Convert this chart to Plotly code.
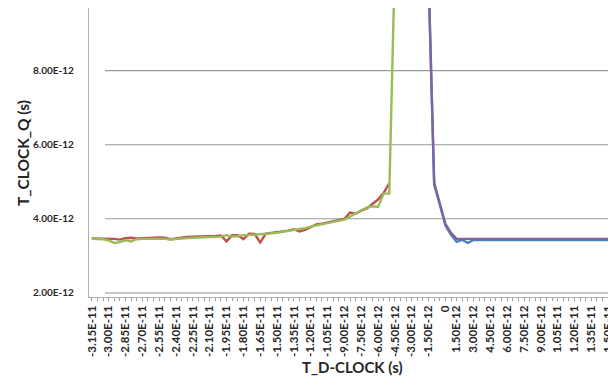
import plotly.graph_objects as go

# ---- data (times in picoseconds; labels show seconds) ----
T_D_PS = [-31.5, -31.0, -30.5, -30.0, -29.5, -29.0, -28.5, -28.0, -27.5, -27.0,
          -26.5, -26.0, -25.5, -25.0, -24.5, -24.0, -23.5, -23.0, -22.5, -22.0,
          -21.5, -21.0, -20.5, -20.0, -19.5, -19.0, -18.5, -18.0, -17.5, -17.0,
          -16.5, -16.0, -15.5, -15.0, -14.5, -14.0, -13.5, -13.0, -12.5, -12.0,
          -11.5, -11.0, -10.5, -10.0, -9.5, -9.0, -8.5, -8.0, -7.5, -7.0,
          -6.5, -6.0, -5.5, -5.0, -4.5, -4.0, -3.5, -3.0, -2.5, -2.0,
          -1.5, -1.0, -0.5, 0.0, 1.0, 1.5, 2.0, 2.5, 3.0, 3.5,
          4.0, 4.5, 5.0, 5.5, 6.0, 6.5, 7.0, 7.5, 8.0, 8.5,
          9.0, 9.5, 10.0, 10.5, 11.0, 11.5, 12.0, 12.5, 13.0, 13.5,
          14.0, 14.5, 15.0]

X_TICK_AT_PS = [-31.5, -30.0, -28.5, -27.0, -25.5, -24.0, -22.5, -21.0, -19.5, -18.0,
                -16.5, -15.0, -13.5, -12.0, -10.5, -9.0, -7.5, -6.0, -4.5, -3.0,
                -1.5, 0.0, 1.5, 3.0, 4.5, 6.0, 7.5, 9.0, 10.5, 12.0, 13.5, 15.0]
X_TICK_LABELS = ["-3.15E-11", "-3.00E-11", "-2.85E-11", "-2.70E-11", "-2.55E-11",
                 "-2.40E-11", "-2.25E-11", "-2.10E-11", "-1.95E-11", "-1.80E-11",
                 "-1.65E-11", "-1.50E-11", "-1.35E-11", "-1.20E-11", "-1.05E-11",
                 "-9.00E-12", "-7.50E-12", "-6.00E-12", "-4.50E-12", "-3.00E-12",
                 "-1.50E-12", "0", "1.50E-12", "3.00E-12", "4.50E-12", "6.00E-12",
                 "7.50E-12", "9.00E-12", "1.05E-11", "1.20E-11", "1.35E-11", "1.50E-11"]

Y_TICK_VALS = [2, 4, 6, 8]
Y_TICK_LABELS = ["2.00E-12", "4.00E-12", "6.00E-12", "8.00E-12"]

RED_X = T_D_PS[0:54]
RED_Y = [3.47, 3.47, 3.47, 3.47, 3.46, 3.44, 3.48, 3.49, 3.47, 3.48,
         3.49, 3.50, 3.50, 3.49, 3.45, 3.47, 3.50, 3.51, 3.52, 3.52,
         3.53, 3.53, 3.54, 3.55, 3.39, 3.56, 3.56, 3.45, 3.60, 3.59,
         3.36, 3.60, 3.62, 3.63, 3.64, 3.68, 3.72, 3.66, 3.70, 3.78,
         3.85, 3.87, 3.90, 3.93, 3.96, 4.00, 4.17, 4.14, 4.22, 4.28,
         4.40, 4.52, 4.70, 4.96]

GREEN_X = T_D_PS[0:55]
GREEN_Y = [3.46, 3.46, 3.45, 3.42, 3.35, 3.37, 3.42, 3.39, 3.45, 3.46,
           3.46, 3.47, 3.48, 3.46, 3.44, 3.46, 3.48, 3.48, 3.49, 3.50,
           3.50, 3.51, 3.51, 3.52, 3.56, 3.52, 3.53, 3.56, 3.56, 3.57,
           3.58, 3.59, 3.60, 3.62, 3.65, 3.67, 3.70, 3.72, 3.75, 3.79,
           3.82, 3.85, 3.88, 3.92, 3.95, 3.98, 4.06, 4.15, 4.23, 4.30,
           4.34, 4.32, 4.68, 4.68, 11.0]

BLUE_X = T_D_PS[60:93]
BLUE_Y = [10.5, 4.92, 4.38, 3.82, 3.57, 3.38, 3.43, 3.35, 3.43, 3.43,
          3.43, 3.43, 3.43, 3.43, 3.43, 3.43, 3.43, 3.43, 3.43, 3.43,
          3.43, 3.43, 3.43, 3.43, 3.43, 3.43, 3.43, 3.43, 3.43, 3.43,
          3.43, 3.43, 3.43]

PURPLE_X = T_D_PS[60:93]
PURPLE_Y = [10.5, 4.97, 4.42, 3.86, 3.62, 3.46, 3.46, 3.45, 3.46, 3.46,
            3.46, 3.46, 3.48, 3.46, 3.46, 3.46, 3.46, 3.46, 3.46, 3.46,
            3.46, 3.46, 3.46, 3.46, 3.46, 3.46, 3.46, 3.46, 3.46, 3.46,
            3.46, 3.46, 3.46]

# ---- figure ----
cat = [str(v) for v in T_D_PS]
lab_map = dict(zip(X_TICK_AT_PS, X_TICK_LABELS))
tick_text = [lab_map.get(v, "") for v in T_D_PS]

def c(xs):
    return [str(v) for v in xs]

fig = go.Figure()
series = [
    (BLUE_X, BLUE_Y, "#4F81BD"),
    (RED_X, RED_Y, "#C0504D"),
    (GREEN_X, GREEN_Y, "#9BBB59"),
    (PURPLE_X, PURPLE_Y, "#8064A2"),
]
for xs, ys, col in series:
    fig.add_trace(go.Scatter(x=c(xs), y=ys, mode="lines",
                             line=dict(color=col, width=2.4),
                             showlegend=False, cliponaxis=True))

# page offset (body margin) compensation
O = 8
W, H = 616 - O, 379 - O
L, R, T, B = 89 - O, W - (611 - O), 0, H - (297 - O)
pw = W - L - R
ph = H - T - B

def px_x(page_x):
    return (page_x - O - L) / pw

def px_y(page_y):
    return (H - B - (page_y - O)) / ph

# gridlines (start a bit right of the axis, like the original)
for v in Y_TICK_VALS:
    fig.add_shape(type="line", xref="paper", yref="y",
                  x0=px_x(105), x1=px_x(613), y0=v, y1=v,
                  line=dict(color="#c8c8c8" if v == 2 else "#9a9a9a",
                            width=2 if v == 2 else 1.1),
                  layer="below")

font_fam = "Lato, 'Open Sans', sans-serif"
fig.update_layout(
    width=W, height=H,
    margin=dict(l=L, r=R, t=T, b=B, autoexpand=False),
    paper_bgcolor="white", plot_bgcolor="white",
    xaxis=dict(type="category", categoryorder="array", categoryarray=cat,
               range=[-0.5, len(cat) - 0.5], automargin=False,
               tickmode="array", tickvals=cat, ticktext=tick_text,
               tickangle=-90, ticks="outside", ticklen=3, tickcolor="#a0a0a0",
               tickwidth=1, ticklabeloverflow="allow",
               showline=True, linecolor="#b0b0b0", linewidth=1.2,
               showgrid=False, zeroline=False,
               tickfont=dict(family=font_fam, size=11.5, color="#262626", weight="bold")),
    yaxis=dict(range=[1.89, 9.69], automargin=False,
               tickmode="array", tickvals=Y_TICK_VALS,
               ticktext=Y_TICK_LABELS, ticks="", showgrid=False, zeroline=False,
               showline=True, linecolor="#b0b0b0", linewidth=1.2,
               ticklabelstandoff=12,
               tickfont=dict(family=font_fam, size=10, color="#262626", weight="bold")),
    annotations=[
        dict(text="T_D-CLOCK (s)", xref="paper", yref="paper",
             x=px_x(352), y=px_y(367), xanchor="center", yanchor="middle",
             showarrow=False,
             font=dict(family=font_fam, size=15, color="#262626", weight="bold")),
        dict(text="T_CLOCK_Q (s)", xref="paper", yref="paper",
             x=px_x(23), y=px_y(153), xanchor="center", yanchor="middle",
             textangle=-90, showarrow=False,
             font=dict(family=font_fam, size=15.5, color="#262626", weight="bold")),
    ],
)

fig.write_html("out.html")
